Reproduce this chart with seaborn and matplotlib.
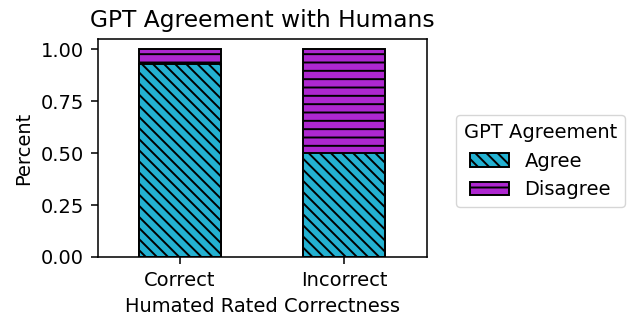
import numpy as np
import pandas as pd
import seaborn as sns
import matplotlib
matplotlib.use("Agg")
import matplotlib.pyplot as plt

# Data
categories = ["Correct", "Incorrect"]
agree = [0.93, 0.50]
disagree = [0.07, 0.50]

agree_color = "#23b1d1"
disagree_color = "#ae27d0"

# reference looks like a 140 dpi render, so scale the defaults by 1.4
s = 1.4
plt.rcParams.update({
    "font.size": 10 * s,
    "axes.titlesize": 12 * s,
    "axes.linewidth": 0.8 * s,
    "xtick.major.size": 3.5 * s,
    "ytick.major.size": 3.5 * s,
    "xtick.major.width": 0.8 * s,
    "ytick.major.width": 0.8 * s,
    "xtick.major.pad": 3.5 * s,
    "ytick.major.pad": 3.5 * s,
    "hatch.linewidth": 1.0 * s,
    "legend.fontsize": 10 * s,
    "legend.title_fontsize": 10 * s,
})

fig, ax = plt.subplots(figsize=(6.31, 3.18), dpi=100)
fig.subplots_adjust(left=0.155, right=0.676, top=0.877, bottom=0.192)

total = [a + d for a, d in zip(agree, disagree)]
df = pd.DataFrame({"cat": categories, "agree": agree, "total": total})

# stack by drawing the totals first, then the lower segment over them
sns.barplot(data=df, x="cat", y="total", color=disagree_color, width=0.5,
            edgecolor="black", linewidth=1.0 * s, hatch="--", saturation=1, ax=ax)
sns.barplot(data=df, x="cat", y="agree", color=agree_color, width=0.5,
            edgecolor="black", linewidth=1.0 * s, hatch="\\\\\\", saturation=1, ax=ax)

ax.set_ylim(0, 1.05)
ax.set_xlim(-0.5, 1.5)
ax.set_yticks([0, 0.25, 0.5, 0.75, 1.0])
ax.set_yticklabels(["0.00", "0.25", "0.50", "0.75", "1.00"])
ax.set_xlabel("Humated Rated Correctness", labelpad=4 * s)
ax.set_ylabel("Percent", labelpad=4 * s)
ax.set_title("GPT Agreement with Humans", pad=6 * s)

handles = [ax.containers[1], ax.containers[0]]
ax.legend(handles, ["Agree", "Disagree"], title="GPT Agreement",
          loc="center left", bbox_to_anchor=(1.09, 0.44), borderaxespad=0)

fig.savefig("out.png", dpi=100)
